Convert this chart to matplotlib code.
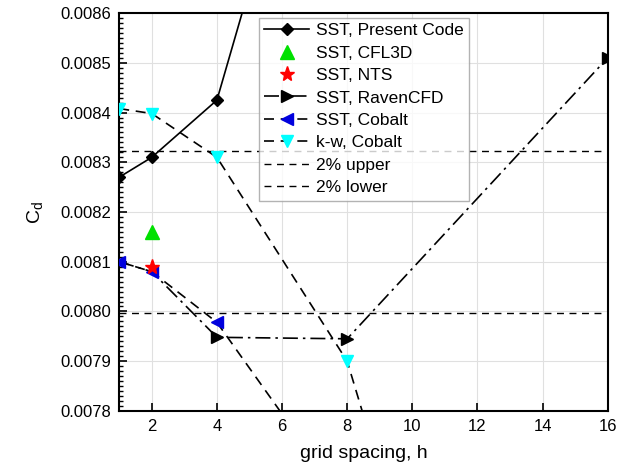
import numpy as np
import matplotlib
matplotlib.use('Agg')
import matplotlib.pyplot as plt
from matplotlib.ticker import MultipleLocator, FormatStrFormatter

plt.rcParams['font.family'] = ['Liberation Sans', 'DejaVu Sans']

h = [1, 2, 4, 8, 16]
present = [0.00827, 0.00831, 0.008425, 0.00933]
cfl3d_h, cfl3d = [2], [0.00816]
nts_h, nts = [2], [0.00809]
raven = [0.00810, 0.00808, 0.007948, 0.007945, 0.00851]
cobalt_sst_h = [1, 2, 4, 8]
cobalt_sst = [0.00810, 0.00808, 0.007978, 0.00761]
kw_cobalt = [0.008408, 0.008398, 0.00831, 0.00790, 0.00616]
upper = 0.0083232
lower = 0.0079968

fig = plt.figure(figsize=(6.41, 4.68), dpi=100)
ax = fig.add_axes([0.186, 0.122, 0.762, 0.850])

ax.plot(h[:4], present, '-', color='black', lw=1.2, marker='D', ms=6,
        label='SST, Present Code', zorder=5)
ax.plot(cfl3d_h, cfl3d, ls='none', marker='^', color='#00e000', ms=10,
        label='SST, CFL3D', zorder=6)
ax.plot(nts_h, nts, ls='none', marker='*', color='red', ms=11,
        label='SST, NTS', zorder=6)
ax.plot(h, raven, color='black', lw=1.2, dashes=(9, 3, 1.5, 3), marker='>',
        ms=8, markevery=[2, 3, 4], label='SST, RavenCFD', zorder=4)
ax.plot(cobalt_sst_h, cobalt_sst, color='black', lw=1.2, dashes=(6, 4), marker='<',
        mfc='#0000dd', mec='#0000dd', ms=8, label='SST, Cobalt', zorder=5)
ax.plot(h, kw_cobalt, color='black', lw=1.2, dashes=(6, 4), marker='v',
        mfc='cyan', mec='cyan', ms=8, label='k-w, Cobalt', zorder=5)
ax.axhline(upper, color='black', lw=1.0, dashes=(5, 4), label='2% upper', zorder=3)
ax.axhline(lower, color='black', lw=1.0, dashes=(5, 4), label='2% lower', zorder=3)

ax.set_xlim(1, 16)
ax.set_ylim(0.0078, 0.0086)
ax.xaxis.set_major_locator(MultipleLocator(2))
ax.yaxis.set_major_locator(MultipleLocator(0.0001))
ax.yaxis.set_minor_locator(MultipleLocator(0.00001))
ax.yaxis.set_major_formatter(FormatStrFormatter('%.4f'))
ax.tick_params(axis='both', which='major', direction='in', length=6, width=1.2,
               labelsize=12, top=False, right=False, pad=6)
ax.tick_params(axis='y', which='minor', direction='in', length=3, width=1.0,
               right=False)
ax.grid(True, which='major', color='#e0e0e0', lw=0.8)
ax.set_axisbelow(True)
for s in ax.spines.values():
    s.set_linewidth(1.5)

ax.set_xlabel('grid spacing, h', fontsize=14, labelpad=8)
ax.set_ylabel('C$_\\mathregular{d}$', fontsize=14, labelpad=10)

leg = ax.legend(loc='upper left', bbox_to_anchor=(0.286, 0.988), fontsize=12.5,
                frameon=True, fancybox=False, edgecolor='#a0a0a0',
                handlelength=2.6, labelspacing=0.42, borderpad=0.3,
                handletextpad=0.4, borderaxespad=0)
leg.get_frame().set_linewidth(1.0)
leg.set_zorder(10)

fig.savefig('out.png', dpi=100)
